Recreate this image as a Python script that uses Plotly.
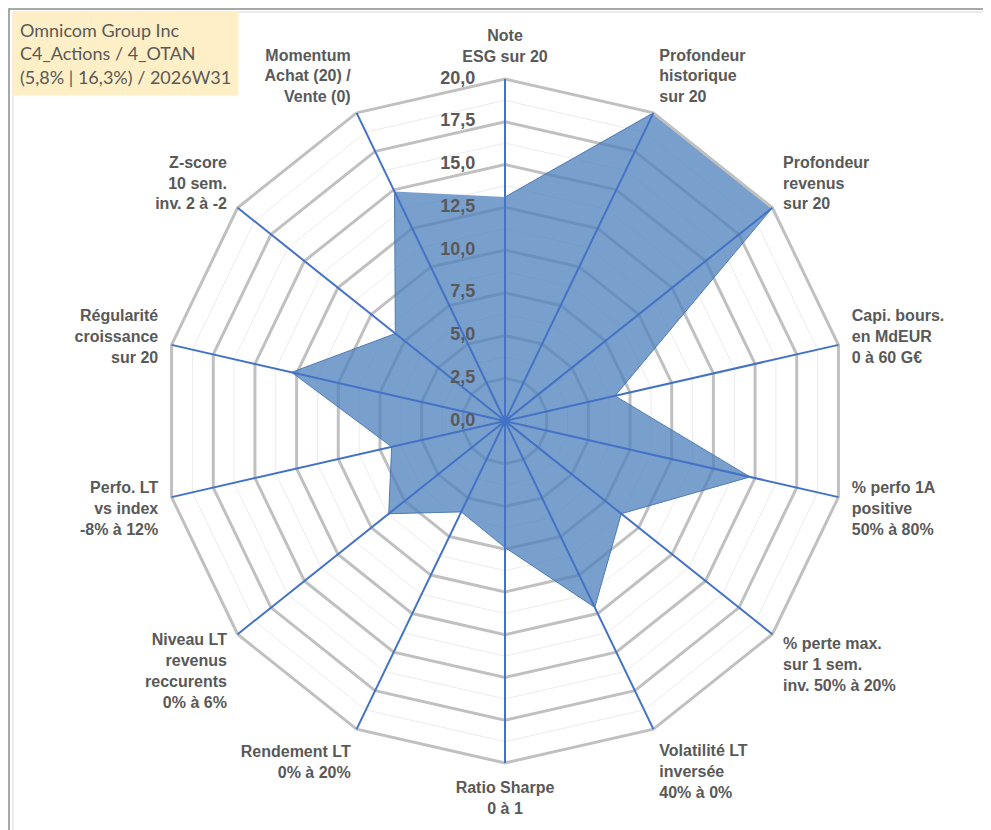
import plotly.graph_objects as go

categories = [
    "Note<br>ESG sur 20",
    "Profondeur<br>historique<br>sur 20",
    "Profondeur<br>revenus<br>sur 20",
    "Capi. bours.<br>en MdEUR<br>0 à 60 G€",
    "% perfo 1A<br>positive<br>50% à 80%",
    "% perte max.<br>sur 1 sem.<br>inv. 50% à 20%",
    "Volatilité LT<br>inversée<br>40% à 0%",
    "Ratio Sharpe<br>0 à 1",
    "Rendement LT<br>0% à 20%",
    "Niveau LT<br>revenus<br>reccurents<br>0% à 6%",
    "Perfo. LT<br>vs index<br>-8% à 12%",
    "Régularité<br>croissance<br>sur 20",
    "Z-score<br>10 sem.<br>inv. 2 à -2",
    "Momentum<br>Achat (20) /<br>Vente (0)",
]
values = [13.1, 20.0, 20.0, 6.6, 14.7, 8.7, 12.1, 7.4, 5.9, 8.7, 6.8, 12.8, 8.2, 14.9]

major_ticks = [0, 2.5, 5, 7.5, 10, 12.5, 15, 17.5, 20]
major_labels = ["0,0", "2,5", "5,0", "7,5", "10,0", "12,5", "15,0", "17,5", "20,0"]
minor_ticks = [1.25, 3.75, 6.25, 8.75, 11.25, 13.75, 16.25, 18.75]

title_lines = ["Omnicom Group Inc", "C4_Actions / 4_OTAN", "(5,8% | 16,3%) / 2026W31"]

W, H = 991, 830
cx, cy, R = 497, 413, 342
dom_x = [(cx - R) / W, (cx + R) / W]
dom_y = [(H - cy - R) / H, (H - cy + R) / H]

fig = go.Figure()
fig.add_trace(go.Scatterpolar(r=[0] * len(categories), theta=categories, mode="lines",
                              line=dict(color="rgba(0,0,0,0)"), hoverinfo="skip",
                              showlegend=False, subplot="polar"))
fig.add_trace(go.Scatterpolar(r=values, theta=categories, mode="lines", fill="toself",
                              fillcolor="rgba(79,129,189,0.76)",
                              line=dict(color="rgba(70,115,175,0.9)", width=1),
                              showlegend=False, subplot="polar2"))
# radial value labels along the first axis
fig.add_trace(go.Scatterpolar(r=major_ticks, theta=[categories[0]] * len(major_ticks),
                              mode="markers+text", text=major_labels,
                              textposition="middle left",
                              marker=dict(size=46, color="rgba(0,0,0,0)"),
                              textfont=dict(family="Liberation Sans", size=18,
                                            color="#595959", weight="bold"),
                              hoverinfo="skip", showlegend=False, cliponaxis=False,
                              subplot="polar3"))

common_ang = dict(rotation=90, direction="clockwise", categoryorder="array",
                  categoryarray=categories)

fig.update_layout(
    width=W, height=H,
    margin=dict(l=0, r=0, t=0, b=0),
    paper_bgcolor="white",
    showlegend=False,
    polar=dict(
        domain=dict(x=dom_x, y=dom_y), gridshape="linear", bgcolor="white",
        radialaxis=dict(range=[0, 20], tickvals=minor_ticks, showticklabels=False,
                        showline=False, ticks="", gridcolor="#ececec", gridwidth=1),
        angularaxis=dict(showticklabels=False, showgrid=False, showline=False, ticks="",
                         **common_ang),
    ),
    polar2=dict(
        domain=dict(x=dom_x, y=dom_y), gridshape="linear", bgcolor="rgba(0,0,0,0)",
        radialaxis=dict(range=[0, 20], tickvals=major_ticks, showticklabels=False,
                        showline=False, ticks="", gridcolor="#c0c0c0", gridwidth=3),
        angularaxis=dict(showticklabels=False, showgrid=False, showline=True,
                         linecolor="#c0c0c0", linewidth=3, ticks="", **common_ang),
    ),
    polar3=dict(
        domain=dict(x=dom_x, y=dom_y), gridshape="circular", bgcolor="rgba(0,0,0,0)",
        radialaxis=dict(range=[0, 20], showticklabels=False, showgrid=False,
                        showline=False, ticks="", angle=90),
        angularaxis=dict(showgrid=True, gridcolor="#4472C4", gridwidth=1.6, showline=False,
                         ticks="outside", ticklen=10, tickcolor="rgba(0,0,0,0)",
                         tickfont=dict(family="Liberation Sans", size=16, color="#595959",
                                       weight="bold"),
                         **common_ang),
    ),
    annotations=[dict(
        text="<br>".join(title_lines), xref="paper", yref="paper",
        x=4 / W, y=1 - 3 / H, xanchor="left", yanchor="top", align="left",
        showarrow=False, bgcolor="#FFEFC6", borderpad=7,
        font=dict(family="Lato", size=18, color="#595959"),
    )],
    shapes=[
        dict(type="rect", xref="paper", yref="paper", x0=1 / W, x1=1 - 2 / W,
             y0=2 / H, y1=1 - 1 / H, line=dict(color="#8c8c8c", width=1.5)),
        dict(type="rect", xref="paper", yref="paper", x0=5 / W, x1=980 / W,
             y0=1 - 825 / H, y1=1 - 4 / H, line=dict(color="#d9d9d9", width=1)),
    ],
)

fig.write_html("out.html")
